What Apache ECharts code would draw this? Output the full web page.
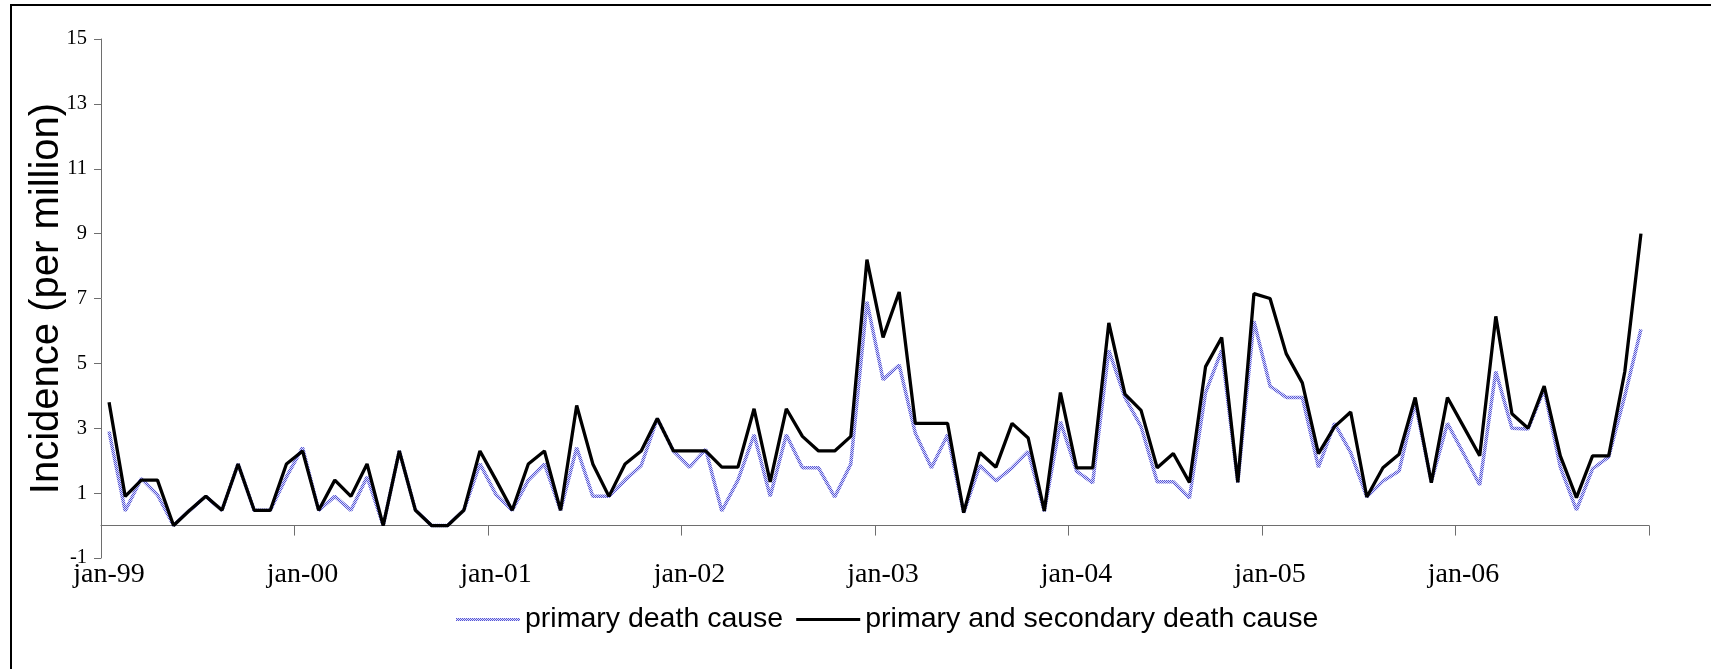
<!DOCTYPE html>
<html>
<head>
<meta charset="utf-8">
<title>Incidence (per million)</title>
<script src="https://cdn.jsdelivr.net/npm/echarts@6/dist/echarts.min.js"></script>
<style>
  html, body { margin: 0; padding: 0; background: #ffffff; }
  #chart { width: 1711px; height: 669px; }
</style>
</head>
<body>
<div id="chart"></div>
<script>
// Monthly incidence per million, January 1999 to December 2006
const years = ['99', '00', '01', '02', '03', '04', '05', '06'];
const months = ['jan', 'feb', 'mar', 'apr', 'may', 'jun', 'jul', 'aug', 'sep', 'oct', 'nov', 'dec'];

const primaryCause = [
  2.9, 0.45, 1.45, 0.95, 0, 0.47, 0.9, 0.47, 1.9, 0.47, 0.47, 1.5,
  2.4, 0.47, 0.9, 0.47, 1.5, 0, 2.3, 0.47, 0, 0, 0.47, 1.9,
  0.95, 0.47, 1.4, 1.9, 0.47, 2.4, 0.9, 0.9, 1.4, 1.85, 3.3, 2.3,
  1.8, 2.35, 0.45, 1.4, 2.8, 0.9, 2.8, 1.78, 1.78, 0.88, 1.9, 6.9,
  4.5, 4.95, 2.85, 1.78, 2.8, 0.4, 1.85, 1.38, 1.78, 2.28, 0.44, 3.2,
  1.68, 1.32, 5.4, 3.95, 3.05, 1.35, 1.35, 0.85, 4.1, 5.4, 1.33, 6.3,
  4.3, 3.95, 3.95, 1.8, 3.15, 2.25, 0.88, 1.37, 1.68, 3.8, 1.35, 3.15,
  2.22, 1.25, 4.75, 3.0, 2.98, 4.2, 1.8, 0.48, 1.75, 2.12, 4.0, 6.05
];

const primaryAndSecondary = [
  3.8, 0.9, 1.4, 1.4, 0, 0.47, 0.9, 0.47, 1.9, 0.47, 0.47, 1.9,
  2.3, 0.47, 1.4, 0.9, 1.9, 0, 2.3, 0.47, 0, 0, 0.47, 2.3,
  1.4, 0.47, 1.9, 2.3, 0.47, 3.7, 1.9, 0.9, 1.9, 2.3, 3.3, 2.3,
  2.3, 2.3, 1.8, 1.8, 3.6, 1.35, 3.6, 2.75, 2.3, 2.3, 2.75, 8.2,
  5.8, 7.2, 3.15, 3.15, 3.15, 0.4, 2.25, 1.8, 3.15, 2.7, 0.45, 4.1,
  1.78, 1.78, 6.25, 4.05, 3.55, 1.78, 2.22, 1.33, 4.9, 5.8, 1.33, 7.15,
  7.0, 5.3, 4.4, 2.22, 3.05, 3.5, 0.88, 1.78, 2.2, 3.95, 1.32, 3.95,
  3.05, 2.15, 6.45, 3.45, 3.0, 4.3, 2.15, 0.86, 2.15, 2.15, 4.75, 9.0
];

const seriesNames = ['primary death cause', 'primary and secondary death cause'];
const yTitle = 'Incidence (per million)';

const categories = [];
years.forEach(y => months.forEach(m => categories.push(m + '-' + y)));

// grainy blue texture used for the primary-cause line
function dottedBlue() {
  const c = document.createElement('canvas');
  c.width = 2; c.height = 2;
  const g = c.getContext('2d');
  g.fillStyle = '#dcdcf8'; g.fillRect(0, 0, 2, 2);
  g.fillStyle = '#5656d8'; g.fillRect(0, 0, 1, 1); g.fillRect(1, 1, 1, 1);
  return { image: c, repeat: 'repeat' };
}
const blueTexture = dottedBlue();

const chart = echarts.init(document.getElementById('chart'), null, { renderer: 'canvas' });

chart.setOption({
  animation: false,
  backgroundColor: '#ffffff',
  graphic: [
    { type: 'line', shape: { x1: 11, y1: 5, x2: 11, y2: 669 }, style: { stroke: '#000', lineWidth: 2 } },
    { type: 'line', shape: { x1: 10, y1: 5, x2: 1711, y2: 5 }, style: { stroke: '#000', lineWidth: 2 } }
  ],
  grid: { left: 101, right: 62, top: 39, bottom: 111, containLabel: false },
  legend: {
    left: 451,
    top: 600,
    icon: 'rect',
    itemWidth: 64,
    itemHeight: 3,
    itemGap: 13,
    textStyle: { fontFamily: 'Liberation Sans', fontSize: 28.5, color: '#000' },
    data: [
      { name: seriesNames[0], itemStyle: { color: blueTexture } },
      { name: seriesNames[1], itemStyle: { color: '#000' } }
    ]
  },
  xAxis: {
    type: 'category',
    data: categories,
    boundaryGap: true,
    axisLine: { onZero: true, lineStyle: { color: '#6e6e6e', width: 1 } },
    axisTick: { show: true, interval: 11, length: 10, lineStyle: { color: '#6e6e6e' } },
    axisLabel: {
      interval: 11,
      margin: 3,
      fontFamily: 'Liberation Serif',
      fontSize: 28,
      color: '#000'
    },
    splitLine: { show: false }
  },
  yAxis: {
    type: 'value',
    min: -1,
    max: 15,
    interval: 2,
    name: yTitle,
    nameLocation: 'middle',
    nameRotate: 90,
    nameGap: 34,
    nameMoveOverlap: false,
    nameTextStyle: { fontFamily: 'Liberation Sans', fontSize: 40, color: '#000' },
    axisLine: { show: true, lineStyle: { color: '#6e6e6e', width: 1 } },
    axisTick: { show: true, length: 7, lineStyle: { color: '#6e6e6e' } },
    axisLabel: { margin: 14, fontFamily: 'Liberation Serif', fontSize: 20.5, color: '#000' },
    splitLine: { show: false }
  },
  series: [
    {
      name: seriesNames[0],
      type: 'line',
      data: primaryCause,
      symbol: 'none',
      lineStyle: { color: blueTexture, width: 3.5 },
      itemStyle: { color: blueTexture },
      z: 2
    },
    {
      name: seriesNames[1],
      type: 'line',
      data: primaryAndSecondary,
      symbol: 'none',
      lineStyle: { color: '#000', width: 3.3 },
      itemStyle: { color: '#000' },
      z: 3
    }
  ]
});
</script>
</body>
</html>
